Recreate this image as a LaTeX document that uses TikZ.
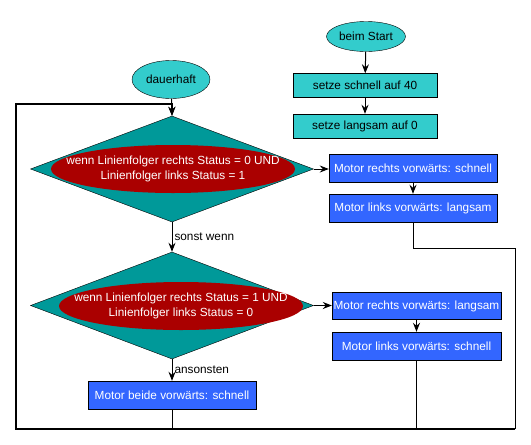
\documentclass[tikz,border=0pt]{standalone}
\usepackage{fontspec}
\setmainfont{Liberation Sans}
\usepackage{xcolor}
\usepackage{tikz}
\usetikzlibrary{arrows.meta,shapes.geometric}

\definecolor{tuerkis}{HTML}{33CCCC}
\definecolor{petrol}{HTML}{009999}
\definecolor{dunkelrot}{HTML}{AA0000}
\definecolor{motorblau}{HTML}{3366FF}

\begin{document}
\begin{tikzpicture}[x=1pt,y=-1pt,
    every node/.style={font=\fontsize{11.8}{14.5}\selectfont, inner sep=0pt},
    ereignis/.style={ellipse, draw=black, fill=tuerkis, minimum width=79, minimum height=30},
    setzen/.style={rectangle, draw=black, fill=tuerkis, minimum width=144, minimum height=24},
    motor/.style={rectangle, draw=black, fill=motorblau, text=white, minimum width=168, minimum height=28},
    raute/.style={diamond, draw=black, fill=petrol, minimum width=283, minimum height=106},
    bedingung/.style={ellipse, fill=dunkelrot, minimum width=244, minimum height=48},
    pfeil/.style={-{Stealth[length=9pt,width=7pt,inset=3pt]}, line width=1pt},
    linie/.style={line width=1pt}]
            \useasboundingbox (0,0) rectangle (531,445);
            % Start-Ereignis
            \node [ereignis] (start) at (366,36.5) {beim Start};
            \node [setzen] (setze1) at (365,85.5) {setze schnell auf 40};
            \node [setzen] (setze2) at (365,126) {setze langsam auf 0};
            % dauerhaft-Schleife
            \node [ereignis, minimum width=78, minimum height=38] (dauer) at (171,79.5) {dauerhaft};
            \node [raute] (wenn1) at (172,169) {};
            \node [bedingung] (bed1) at (173,169) {};
            \node [text=white, align=center] at (bed1) {wenn Linienfolger rechts Status = 0 UND\\Linienfolger links Status = 1};
            \node [raute, minimum height=107] (wenn2) at (172,305.5) {};
            \node [bedingung] (bed2) at (181,306) {};
            \node [text=white, align=center] at (bed2) {wenn Linienfolger rechts Status = 1 UND\\Linienfolger links Status = 0};
            \node [motor] (mr1) at (413,168) {Motor rechts vorw\"arts: schnell};
            \node [motor] (ml1) at (413,208) {Motor links vorw\"arts: langsam};
            \node [motor, minimum width=169, minimum height=27] (mr2) at (416.5,306) {Motor rechts vorw\"arts: langsam};
            \node [motor, minimum width=169] (ml2) at (416.5,346) {Motor links vorw\"arts: schnell};
            \node [motor] (beide) at (172,395) {Motor beide vorw\"arts: schnell};
            % Eckpunkte
            \coordinate (knick) at (515,248);
            \coordinate (eckeru) at (515,429);
            \coordinate (eckelu) at (16,429);
            \coordinate (eckelo) at (16,104);
            % Verbindungen
            \draw [pfeil] (start) -- (setze1);
            \draw [pfeil] (setze1) -- (setze2);
            \draw [pfeil] (dauer) -- (wenn1.north);
            \draw [pfeil] (wenn1.east) -- (wenn1.east -| mr1.west);
            \draw [pfeil] (mr1) -- (ml1);
            \draw [pfeil] (wenn2.east) -- (wenn2.east -| mr2.west);
            \draw [pfeil] (mr2) -- (ml2);
            \draw [pfeil] (wenn1.south) -- node [right=2pt] (sonst) {sonst wenn} (wenn2.north);
            \draw [pfeil] (wenn2.south) -- node [right=2pt] (ansonst) {ansonsten} (beide);
            \draw [linie] (ml1.south) |- (knick) -- (eckeru);
            \draw [linie] (ml2.south) -- (ml2.south |- eckeru);
            \draw [linie] (beide.south) -- (beide.south |- eckeru);
            \draw [pfeil, line width=1.3pt] (eckeru) -- (eckelu) -- (eckelo) -| (wenn1.north);
\end{tikzpicture}
\end{document}
